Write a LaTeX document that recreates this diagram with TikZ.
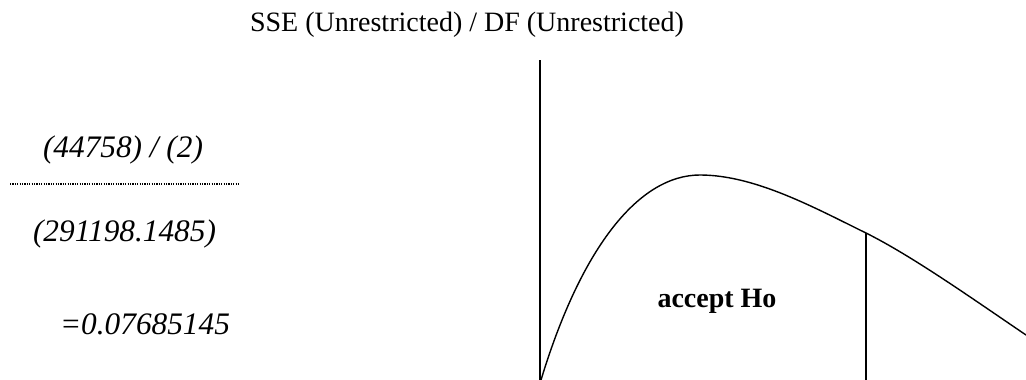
\documentclass[tikz,border=0pt]{standalone}
\usepackage{fontspec}
\setmainfont{Liberation Serif}
\begin{document}
\begin{tikzpicture}[x=1pt,y=-1pt,
  lbl/.style={anchor=base,inner sep=0pt,font=\fontsize{28}{34}\selectfont},
  ital/.style={lbl,font=\fontsize{31.3}{37}\selectfont\itshape},
  bld/.style={lbl,font=\fontsize{28}{34}\selectfont\bfseries},
  ln/.style={line width=1.4pt}]
\useasboundingbox (0,0) rectangle (1026,380);
\node[lbl] (title) at (467,31) {SSE (Unrestricted) / DF (Unrestricted)};
\node[ital] (num) at (123,157) {(44758) / (2)};
\coordinate (dl) at (10,184);
\coordinate (dr) at (240,184);
\draw[line width=1.6pt, dash pattern=on 1.2pt off 1.2pt] (dl) -- (dr);
\node[ital] (den) at (124.5,241) {(291198.1485)};
\node[ital] (res) at (145,334) {=0.07685145};
\node[bld] (acc) at (717,307) {accept Ho};
\coordinate (axtop) at (540,60);
\coordinate (axbot) at (540,380);
\draw[ln] (axtop) -- (axbot);
\coordinate (ct) at (866,233);
\coordinate (cb) at (866,380);
\draw[ln] (ct) -- (cb);
\draw[ln] (541,380) .. controls (582,245) and (640,175) .. (700,175)
  .. controls (755,175) and (815,208) .. (866,233)
  .. controls (912,256) and (970,297) .. (1026,335);
\end{tikzpicture}
\end{document}
